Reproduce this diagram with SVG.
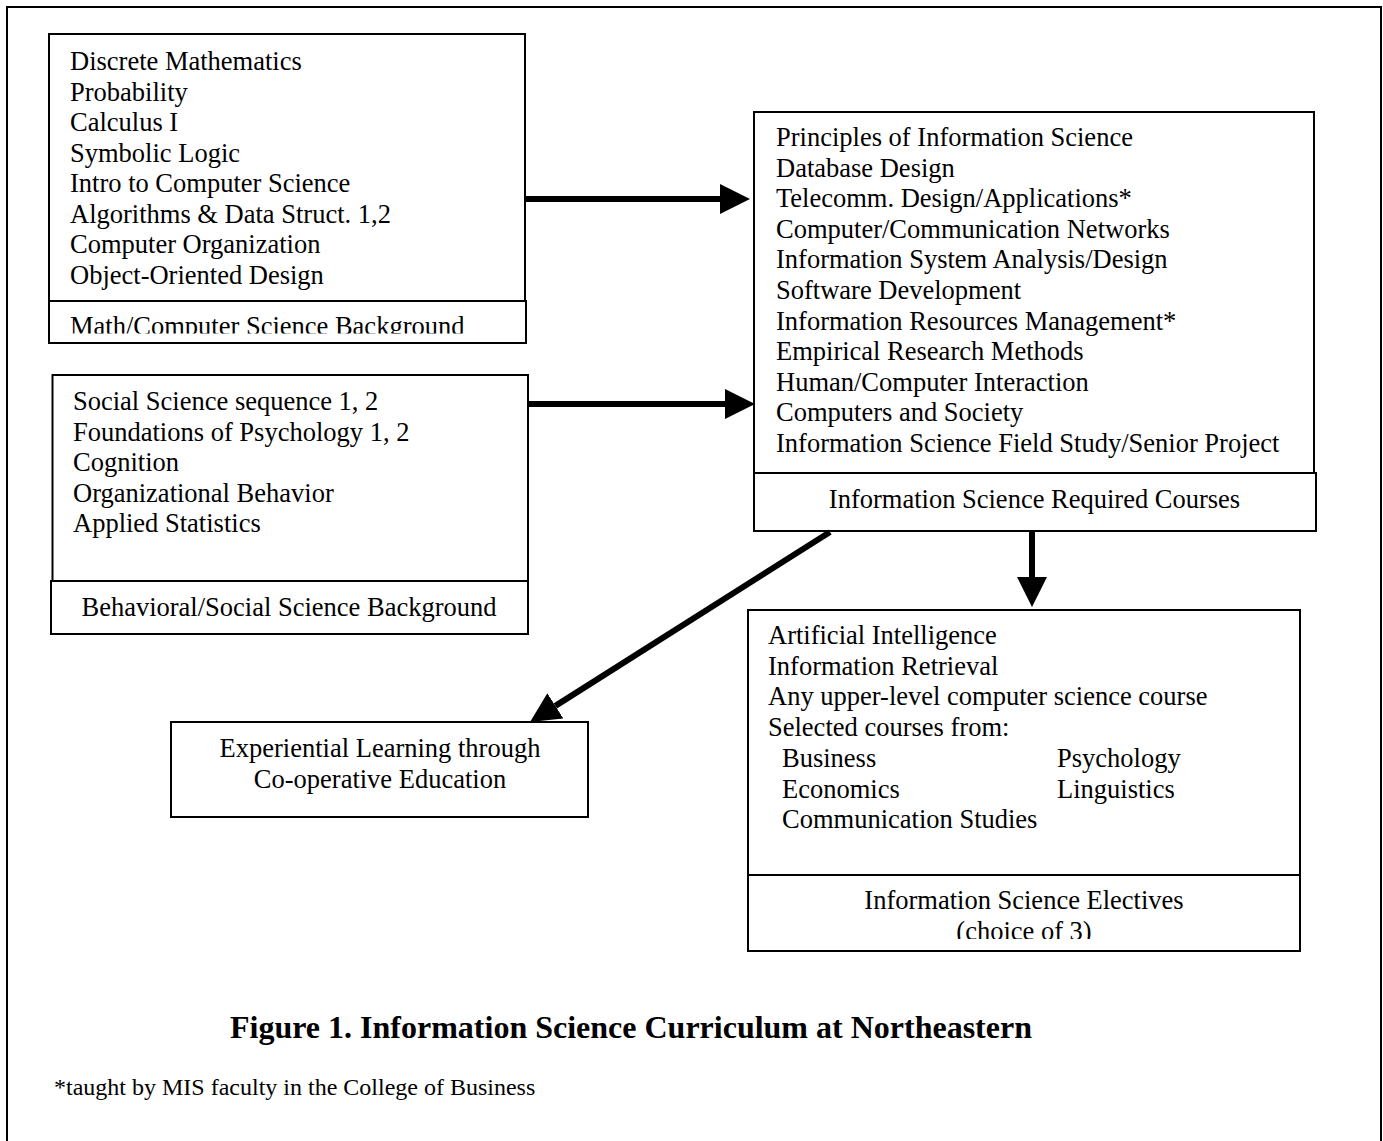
<svg xmlns="http://www.w3.org/2000/svg" width="1383" height="1141" viewBox="0 0 1383 1141">
  <style>
    .box { fill: none; stroke: #000; stroke-width: 2; }
    .t { font-family: "Liberation Serif", "Times New Roman", serif; font-size: 26.5px; fill: #000; }
    .c { text-anchor: middle; }
    .cap { font-family: "Liberation Serif", "Times New Roman", serif; font-size: 32px; font-weight: bold; fill: #000; }
    .fn { font-family: "Liberation Serif", "Times New Roman", serif; font-size: 24px; fill: #000; }
    .conn { stroke: #000; stroke-width: 6; fill: none; marker-end: url(#head); }
  </style>
  <defs>
    <marker id="head" markerUnits="userSpaceOnUse" markerWidth="31" markerHeight="31" refX="0" refY="15" orient="auto" viewBox="0 0 31 31">
      <path d="M0,0 L30,15 L0,30 Z" fill="#000"/>
    </marker>
    <clipPath id="clipMath"><rect x="49" y="301" width="477" height="32.5"/></clipPath>
    <clipPath id="clipElec"><rect x="748" y="875" width="552" height="64"/></clipPath>
  </defs>
  <rect width="1383" height="1141" fill="#fff"/>
  <rect id="frame" class="box" x="7" y="7" width="1374" height="1160"/>

  <g id="math">
    <rect class="box" x="49" y="34" width="476" height="267"/>
    <rect class="box" x="49" y="301" width="477" height="42"/>
    <text class="t" x="70" y="70">Discrete Mathematics</text>
    <text class="t" x="70" y="100.5">Probability</text>
    <text class="t" x="70" y="131">Calculus I</text>
    <text class="t" x="70" y="161.5">Symbolic Logic</text>
    <text class="t" x="70" y="192">Intro to Computer Science</text>
    <text class="t" x="70" y="222.5">Algorithms &amp; Data Struct. 1,2</text>
    <text class="t" x="70" y="253">Computer Organization</text>
    <text class="t" x="70" y="283.5">Object-Oriented Design</text>
    <text class="t" x="70" y="335" clip-path="url(#clipMath)">Math/Computer Science Background</text>
  </g>

  <g id="behavioral">
    <rect class="box" x="52.5" y="375" width="475.5" height="206"/>
    <rect class="box" x="51" y="581" width="477" height="53"/>
    <text class="t" x="73" y="410">Social Science sequence 1, 2</text>
    <text class="t" x="73" y="440.5">Foundations of Psychology 1, 2</text>
    <text class="t" x="73" y="471">Cognition</text>
    <text class="t" x="73" y="501.5">Organizational Behavior</text>
    <text class="t" x="73" y="532">Applied Statistics</text>
    <text class="t c" x="289" y="616">Behavioral/Social Science Background</text>
  </g>

  <g id="required">
    <rect class="box" x="754" y="112" width="560" height="361"/>
    <rect class="box" x="754" y="473" width="562" height="58"/>
    <text class="t" x="776" y="146">Principles of Information Science</text>
    <text class="t" x="776" y="176.6">Database Design</text>
    <text class="t" x="776" y="207.2">Telecomm. Design/Applications*</text>
    <text class="t" x="776" y="237.8">Computer/Communication Networks</text>
    <text class="t" x="776" y="268.4">Information System Analysis/Design</text>
    <text class="t" x="776" y="299">Software Development</text>
    <text class="t" x="776" y="329.6">Information Resources Management*</text>
    <text class="t" x="776" y="360.2">Empirical Research Methods</text>
    <text class="t" x="776" y="390.8">Human/Computer Interaction</text>
    <text class="t" x="776" y="421.4">Computers and Society</text>
    <text class="t" x="776" y="452">Information Science Field Study/Senior Project</text>
    <text class="t c" x="1034.5" y="508">Information Science Required Courses</text>
  </g>

  <g id="electives">
    <rect class="box" x="748" y="610" width="552" height="265"/>
    <rect class="box" x="748" y="875" width="552" height="76"/>
    <text class="t" x="768" y="644">Artificial Intelligence</text>
    <text class="t" x="768" y="674.7">Information Retrieval</text>
    <text class="t" x="768" y="705.4">Any upper-level computer science course</text>
    <text class="t" x="768" y="736.1">Selected courses from:</text>
    <text class="t" x="782" y="766.8">Business</text>
    <text class="t" x="1057" y="766.8">Psychology</text>
    <text class="t" x="782" y="797.5">Economics</text>
    <text class="t" x="1057" y="797.5">Linguistics</text>
    <text class="t" x="782" y="828.2">Communication Studies</text>
    <text class="t c" x="1024" y="909">Information Science Electives</text>
    <text class="t c" x="1024" y="940" clip-path="url(#clipElec)">(choice of 3)</text>
  </g>

  <g id="experiential">
    <rect class="box" x="171" y="722" width="417" height="95"/>
    <text class="t c" x="380" y="757">Experiential Learning through</text>
    <text class="t c" x="380" y="788">Co-operative Education</text>
  </g>

  <g id="connectors">
    <line class="conn" x1="525" y1="199" x2="720" y2="199"/>
    <line class="conn" x1="528" y1="404" x2="725" y2="404"/>
    <line class="conn" x1="1032" y1="531" x2="1032" y2="577"/>
    <line class="conn" x1="830" y1="532" x2="555.4" y2="705.9"/>
  </g>

  <g id="caption">
    <text class="cap" x="230" y="1038">Figure 1. Information Science Curriculum at Northeastern</text>
    <text class="fn" x="54" y="1095">*taught by MIS faculty in the College of Business</text>
  </g>
</svg>
